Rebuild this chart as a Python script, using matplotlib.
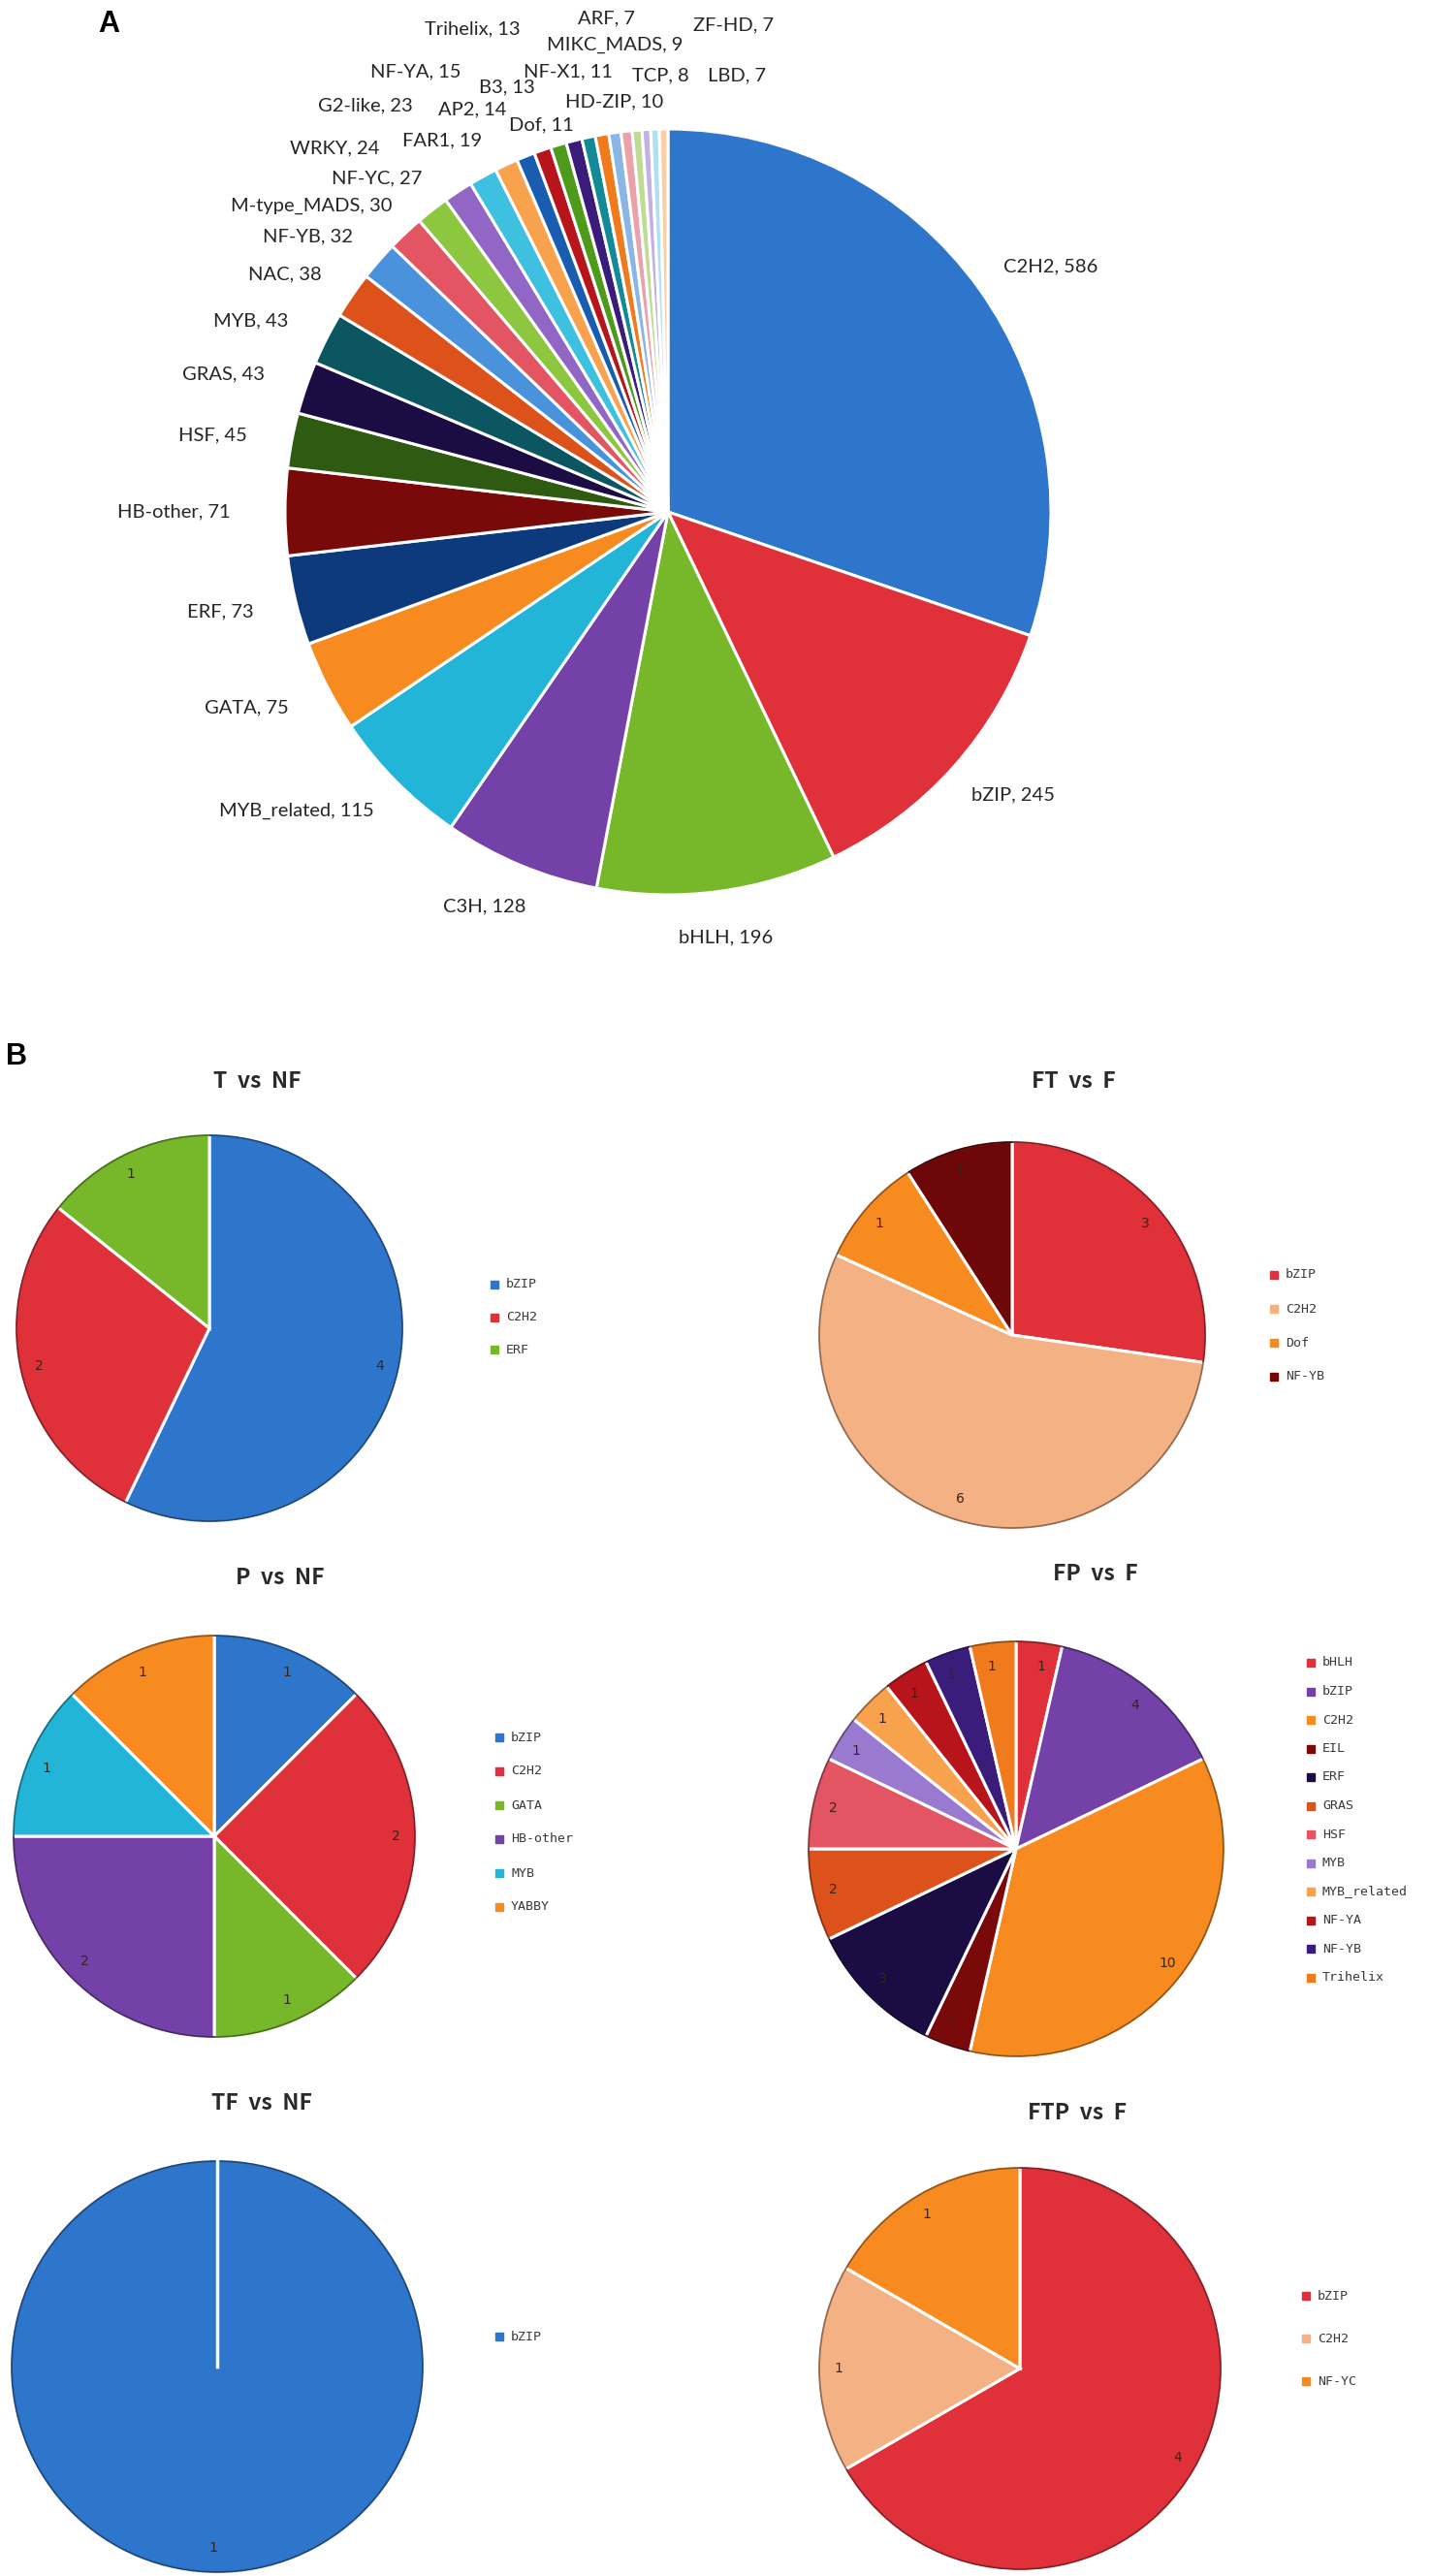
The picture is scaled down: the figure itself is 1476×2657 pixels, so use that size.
import numpy as np
import matplotlib
matplotlib.use('Agg')
import matplotlib.pyplot as plt
from matplotlib.patches import Arc, Rectangle
from matplotlib.colors import to_rgb

W, H = 1476, 2657

# --- panel A: transcription factor families
tf_families = ['C2H2', 'bZIP', 'bHLH', 'C3H', 'MYB_related', 'GATA', 'ERF', 'HB-other',
               'HSF', 'GRAS', 'MYB', 'NAC', 'NF-YB', 'M-type_MADS', 'NF-YC', 'WRKY',
               'G2-like', 'FAR1', 'NF-YA', 'AP2', 'Trihelix', 'B3', 'Dof', 'NF-X1',
               'HD-ZIP', 'MIKC_MADS', 'TCP', 'ARF', 'LBD', 'ZF-HD']
tf_counts = [586, 245, 196, 128, 115, 75, 73, 71, 45, 43, 43, 38, 32, 30, 27, 24,
             23, 19, 15, 14, 13, 13, 11, 11, 10, 9, 8, 7, 7, 7]

# --- panel B: families per comparison
t_nf_names = ['bZIP', 'C2H2', 'ERF']
t_nf_counts = [4, 2, 1]

ft_f_names = ['bZIP', 'C2H2', 'Dof', 'NF-YB']
ft_f_counts = [3, 6, 1, 1]

p_nf_names = ['bZIP', 'C2H2', 'GATA', 'HB-other', 'MYB', 'YABBY']
p_nf_counts = [1, 2, 1, 2, 1, 1]

fp_f_names = ['bHLH', 'bZIP', 'C2H2', 'EIL', 'ERF', 'GRAS', 'HSF', 'MYB',
              'MYB_related', 'NF-YA', 'NF-YB', 'Trihelix']
fp_f_counts = [1, 4, 10, 1, 3, 2, 2, 1, 1, 1, 1, 1]

tf_nf_names = ['bZIP']
tf_nf_counts = [1]

ftp_f_names = ['bZIP', 'C2H2', 'NF-YC']
ftp_f_counts = [4, 1, 1]

# office style palette (base, darker, lighter, darker 2, lighter 2)
BASE = ['#2e75cc', '#e0303a', '#76b82a', '#7341a8', '#22b5d8', '#f88b1f']
DARK1 = ['#0c3a7c', '#7a0a0a', '#2e5a12', '#1c0c44', '#0c5662', '#dc521a']
LIGHT1 = ['#4a92dc', '#e35563', '#8dc63f', '#9266c4', '#3ec1e0', '#f9a24e']
DARK2 = ['#1a5cb0', '#b8141c', '#4e9a1a', '#3a1c7a', '#148a98', '#f07a1c']
LIGHT2 = ['#8ab6e6', '#eca0aa', '#c0dc92', '#c4b0e2', '#aee2f2', '#f9cfa6']
a_colors = BASE + DARK1 + LIGHT1 + DARK2 + LIGHT2

PEACH = '#f4b183'
t_nf_colors = BASE[:3]
ft_f_colors = [BASE[1], PEACH, BASE[5], '#6e0808']
p_nf_colors = [BASE[0], BASE[1], BASE[2], BASE[3], BASE[4], BASE[5]]
fp_f_colors = [BASE[1], BASE[3], BASE[5], DARK1[1], DARK1[3], DARK1[5],
               LIGHT1[1], '#9a7ad0', LIGHT1[5], DARK2[1], DARK2[3], DARK2[5]]
tf_nf_colors = [BASE[0]]
ftp_f_colors = [BASE[1], PEACH, BASE[5]]

# label positions for panel A (pie radius units)
a_label_xy = [(1.00, 0.64), (0.90, -0.74), (0.15, -1.11), (-0.48, -1.03), (-0.97, -0.78),
              (-1.10, -0.51), (-1.17, -0.26), (-1.29, 0.0), (-1.19, 0.20), (-1.16, 0.36),
              (-1.09, 0.50), (-1.00, 0.62), (-0.94, 0.72), (-0.93, 0.80), (-0.76, 0.87),
              (-0.87, 0.95), (-0.79, 1.06), (-0.59, 0.97), (-0.66, 1.15), (-0.51, 1.05),
              (-0.51, 1.26), (-0.42, 1.11), (-0.33, 1.01), (-0.26, 1.15), (-0.14, 1.07),
              (-0.14, 1.22), (-0.02, 1.14), (-0.16, 1.29), (0.18, 1.14), (0.17, 1.27)]

fig = plt.figure(figsize=(W / 100, H / 100), dpi=100)
fig.patch.set_facecolor('white')


def pie_axes(cx, cy, r):
    return fig.add_axes([(cx - r) / W, (H - cy - r) / H, 2 * r / W, 2 * r / H])


def darker(c, f=0.6):
    return tuple(v * f for v in to_rgb(c))


# --- A
ax = pie_axes(689, 528, 395)
wedges, _ = ax.pie(tf_counts, colors=a_colors, startangle=90, counterclock=False,
                   wedgeprops=dict(edgecolor='white', linewidth=2.2))
ax.set_xlim(-1.0, 1.0)
ax.set_ylim(-1.0, 1.0)
for name, cnt, (lx, ly) in zip(tf_families, tf_counts, a_label_xy):
    ax.text(lx, ly, f'{name}, {cnt}', ha='center', va='center', fontsize=14.5,
            color='#262626', family=['Lato', 'DejaVu Sans'], clip_on=False)

fig.text(112 / W, 1 - 25 / H, 'A', fontsize=22, fontweight='bold',
         family=['Liberation Sans', 'DejaVu Sans'], ha='center', va='center')
fig.text(17 / W, 1 - 1090 / H, 'B', fontsize=22, fontweight='bold',
         family=['Liberation Sans', 'DejaVu Sans'], ha='center', va='center')

# --- B
b_panels = [
    # title, names, counts, colors, pie (cx, cy, r), title xy, legend (x, y0, dy)
    ('T  vs  NF', t_nf_names, t_nf_counts, t_nf_colors, (216, 1370, 200), (265, 1115), (506, 1325, 33.5)),
    ('FT  vs  F', ft_f_names, ft_f_counts, ft_f_colors, (1044, 1377, 200), (1107, 1115), (1310, 1315, 35)),
    ('P  vs  NF', p_nf_names, p_nf_counts, p_nf_colors, (221, 1894, 208), (289, 1627), (511, 1792, 35)),
    ('FP  vs  F', fp_f_names, fp_f_counts, fp_f_colors, (1048, 1907, 215), (1130, 1624), (1348, 1715, 29.5)),
    ('TF  vs  NF', tf_nf_names, tf_nf_counts, tf_nf_colors, (224, 2441, 213), (270, 2170), (511, 2410, 35)),
    ('FTP  vs  F', ftp_f_names, ftp_f_counts, ftp_f_colors, (1052, 2443, 208), (1111, 2180), (1343, 2368, 44)),
]

for title, names, counts, colors, (cx, cy, r), (tx, ty), (lx, ly, ldy) in b_panels:
    ax = pie_axes(cx, cy, r)
    wedges, texts = ax.pie(counts, colors=colors, startangle=90, counterclock=False,
                           labels=[str(v) for v in counts], labeldistance=0.88,
                           wedgeprops=dict(edgecolor='white', linewidth=2.2),
                           textprops=dict(fontsize=10, color='#3a2418'))
    for w, c in zip(wedges, colors):
        ax.add_patch(Arc((0, 0), 2 * w.r * 0.995, 2 * w.r * 0.995, theta1=w.theta1, theta2=w.theta2,
                         color=darker(c), lw=1.3))
    if len(wedges) == 1:
        # a single full wedge still shows its seam in the original
        t = np.deg2rad(wedges[0].theta1)
        ax.plot([0, np.cos(t)], [0, np.sin(t)], color='white', lw=2.5)
    ax.set_xlim(-1.0, 1.0)
    ax.set_ylim(-1.0, 1.0)

    fig.text(tx / W, 1 - ty / H, title, fontsize=16.5, fontweight='bold', ha='center', va='center',
             family=['Noto Sans CJK SC', 'DejaVu Sans'], color='#2a2a2a')

    for i, (n, c) in enumerate(zip(names, colors)):
        y = ly + i * ldy
        fig.patches.append(Rectangle((lx / W, (H - y - 4) / H), 8 / W, 8 / H,
                                     transform=fig.transFigure, color=c, figure=fig))
        fig.text((lx + 16) / W, 1 - y / H, n, fontsize=9.5, va='center', ha='left',
                 family='DejaVu Sans Mono', color='#3a3a3a')

fig.savefig('out.png', dpi=100, facecolor='white')
